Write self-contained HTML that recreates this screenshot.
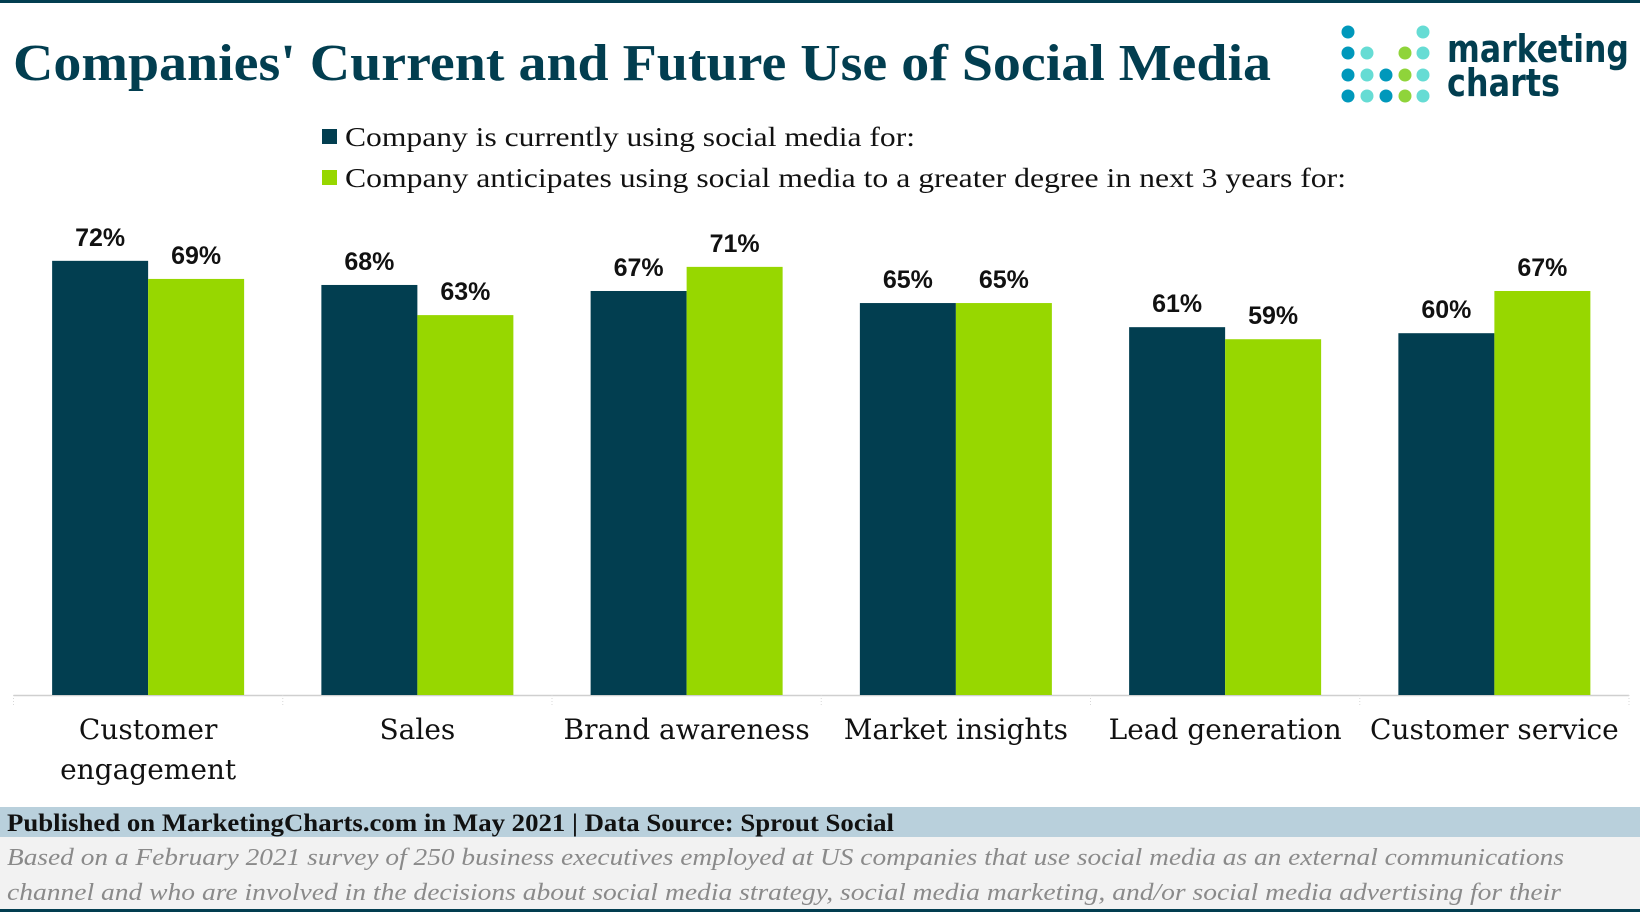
<!DOCTYPE html>
<html><head><meta charset="utf-8"><style>
html,body{margin:0;padding:0;background:#fff;width:1640px;height:912px;overflow:hidden}
svg{display:block}
</style></head><body>
<svg id="chart" xmlns="http://www.w3.org/2000/svg" width="1640" height="912" viewBox="0 0 1640 912">
<rect x="0" y="0" width="1640" height="3" fill="#023e50"/>
<text x="13" y="80" font-family="Liberation Serif, serif" font-weight="bold" font-size="52" fill="#023e50" textLength="1258" lengthAdjust="spacingAndGlyphs">Companies' Current and Future Use of Social Media</text>
<g id="logo"></g>
<text x="1447" y="62" font-family="DejaVu Sans, sans-serif" font-weight="bold" font-size="38" fill="#023e50" textLength="182" lengthAdjust="spacingAndGlyphs">marketing</text>
<text x="1447" y="96" font-family="DejaVu Sans, sans-serif" font-weight="bold" font-size="38" fill="#023e50" textLength="113" lengthAdjust="spacingAndGlyphs">charts</text>
<g>
<rect x="322" y="129" width="15" height="15" fill="#023e50"/>
<text x="345" y="146" font-family="Liberation Serif, serif" font-size="27" fill="#111" textLength="570" lengthAdjust="spacingAndGlyphs">Company is currently using social media for:</text>
<rect x="322" y="170" width="15" height="15" fill="#97d700"/>
<text x="345" y="187" font-family="Liberation Serif, serif" font-size="27" fill="#111" textLength="1001" lengthAdjust="spacingAndGlyphs">Company anticipates using social media to a greater degree in next 3 years for:</text>
</g>
<g id="plot"></g>
<rect x="0" y="807" width="1640" height="30" fill="#b9d0dc"/>
<text x="7" y="831" font-family="Liberation Serif, serif" font-weight="bold" font-size="25" fill="#111" textLength="887" lengthAdjust="spacingAndGlyphs">Published on MarketingCharts.com in May 2021 | Data Source: Sprout Social</text>
<rect x="0" y="837" width="1640" height="75" fill="#f2f2f2"/>
<text x="7" y="865" font-family="Liberation Serif, serif" font-style="italic" font-size="24" fill="#8a8a8a" textLength="1557" lengthAdjust="spacingAndGlyphs">Based on a February 2021 survey of 250 business executives employed at US companies that use social media as an external communications</text>
<text x="7" y="900" font-family="Liberation Serif, serif" font-style="italic" font-size="24" fill="#8a8a8a" textLength="1554" lengthAdjust="spacingAndGlyphs">channel and who are involved in the decisions about social media strategy, social media marketing, and/or social media advertising for their</text>
<rect x="0" y="909" width="1640" height="3" fill="#023e50"/>
</svg>
<script>
const categories = [["Customer","engagement"],["Sales"],["Brand awareness"],["Market insights"],["Lead generation"],["Customer service"]];
const currentValues = [72, 68, 67, 65, 61, 60];
const futureValues = [69, 63, 71, 65, 59, 67];
const seriesNames = ["current", "future"];

const NS = "http://www.w3.org/2000/svg";
const plot = document.getElementById('plot');
const left = 13.5, right = 1629, baseY = 695, pxPerPct = 6.03;
const slot = (right - left) / categories.length;
const barW = 96;
function xCenter(i){ return left + slot * (i + 0.5); }
function yScale(v){ return baseY - v * pxPerPct; }
function mk(tag, attrs){ const e = document.createElementNS(NS, tag); for (const k in attrs) e.setAttribute(k, attrs[k]); return e; }

const axis = mk('line', {x1: left, x2: right, y1: baseY + 0.5, y2: baseY + 0.5, stroke: '#cfcfcf', 'stroke-width': 1.5});


plot.appendChild(axis);
for (let i = 0; i <= categories.length; i++) {
  const t = mk('line', {x1: left + slot * i, x2: left + slot * i, y1: baseY, y2: baseY + 12, stroke: '#d8d8d8', 'stroke-width': 1, 'stroke-dasharray': '1,2'});
  
  
  plot.appendChild(t);
}
const series = [currentValues, futureValues];
const colors = ['#023e50', '#97d700'];
categories.forEach((cat, i) => {
  const cx = xCenter(i);
  series.forEach((vals, s) => {
    const v = vals[i];
    const x = s === 0 ? cx - barW : cx;
    const b = mk('rect', {x: x, y: yScale(v), width: barW, height: baseY - yScale(v), fill: colors[s]});
    
    
    plot.appendChild(b);
    const l = mk('text', {x: x + barW / 2, y: yScale(v) - 15, 'text-anchor': 'middle', 'font-family': 'Liberation Sans, sans-serif', 'font-weight': 'bold', 'font-size': 25, fill: '#111'});
    l.textContent = v + '%';
    
    
    plot.appendChild(l);
  });
  cat.forEach((line, k) => {
    const t = mk('text', {x: cx, y: 739 + k * 40, 'text-anchor': 'middle', 'font-family': 'DejaVu Serif, serif', 'font-size': 28, fill: '#111'});
    t.textContent = line;
    
    
    plot.appendChild(t);
  });
});

const logo = document.getElementById('logo');
const dotX = [1348, 1367, 1386, 1405, 1423];
const dotY = [32, 53, 75, 96];
const B = '#0098bb', C = '#66dcd4', G = '#8fd43a';
const pattern = [[B,null,null,null,C],[B,C,null,G,C],[B,C,B,G,C],[B,C,B,G,C]];
pattern.forEach((row, r) => row.forEach((c, k) => {
  if (!c) return;
  const d = mk('circle', {cx: dotX[k], cy: dotY[r], r: 6.5, fill: c});
  
  
  logo.appendChild(d);
}));
</script>
</body></html>
